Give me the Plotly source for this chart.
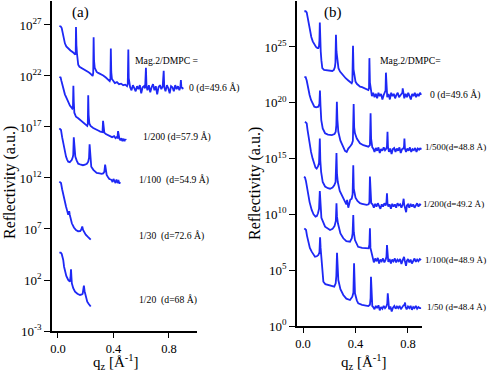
import plotly.graph_objects as go
import numpy as np

# ---- panel (a) curves: q_z [1/A] and log10(reflectivity) ----
a0_q = [0.010, 0.020, 0.027, 0.033, 0.038, 0.044, 0.050, 0.060, 0.074, 0.090, 0.110, 0.120, 0.125, 0.128, 0.130,
        0.133, 0.137, 0.141, 0.146, 0.155, 0.170, 0.182, 0.200, 0.218, 0.232, 0.243, 0.250, 0.254, 0.257, 0.260,
        0.265, 0.272, 0.279, 0.290, 0.305, 0.326, 0.345, 0.363, 0.373, 0.378, 0.381, 0.384, 0.389, 0.397, 0.410,
        0.425, 0.440, 0.455, 0.470, 0.485, 0.498, 0.503, 0.507, 0.510, 0.515,
        0.520, 0.530, 0.540, 0.550, 0.560, 0.570, 0.580, 0.590, 0.600, 0.610, 0.620, 0.628, 0.634, 0.638, 0.645,
        0.655, 0.665, 0.675, 0.685, 0.695, 0.705, 0.715, 0.725, 0.735, 0.745, 0.755, 0.762, 0.766, 0.775, 0.785,
        0.795, 0.805, 0.815, 0.825, 0.835, 0.845, 0.855, 0.865, 0.875, 0.882, 0.886, 0.890, 0.896, 0.900]
a0_logR = [26.9, 26.85, 26.7, 26.3, 25.9, 25.5, 25.2, 24.9, 24.7, 24.5, 24.3, 24.2, 24.1, 24.4, 26.8,
           25.0, 24.2, 23.6, 23.1, 22.9, 22.8, 22.7, 22.55, 22.4, 22.25, 22.1, 22.0, 22.3, 25.8, 23.5,
           22.8, 22.5, 22.4, 22.3, 22.2, 22.05, 21.85, 21.65, 21.5, 21.7, 24.7, 22.4, 21.7, 21.5, 21.3,
           21.4, 21.2, 21.25, 21.1, 21.15, 21.0, 21.2, 24.6, 21.8, 21.1,
           20.9, 20.6, 21.1, 20.8, 20.5, 21.0, 20.7, 21.1, 20.3, 20.9, 21.0, 20.8, 22.8, 21.0, 20.6,
           21.1, 20.4, 20.9, 21.2, 20.6, 21.0, 20.2, 20.9, 21.1, 20.7, 21.0, 22.5, 20.9, 20.5, 21.1,
           20.8, 20.3, 21.0, 20.9, 20.5, 21.1, 20.7, 21.0, 20.6, 20.9, 21.6, 20.8, 20.9, 20.7]

a200_q = [0.010, 0.019, 0.025, 0.030, 0.038, 0.050, 0.063, 0.075, 0.086, 0.095, 0.103, 0.108, 0.111, 0.114, 0.118,
          0.122, 0.130, 0.146, 0.160, 0.175, 0.195, 0.205, 0.211, 0.215, 0.218, 0.221, 0.226, 0.235, 0.254, 0.270,
          0.290, 0.305, 0.315, 0.321, 0.325, 0.329, 0.334, 0.345, 0.360, 0.375, 0.390, 0.405, 0.415, 0.423, 0.429,
          0.433, 0.437, 0.442, 0.450, 0.458, 0.465, 0.472, 0.480, 0.486, 0.490]
a200_logR = [21.9, 21.85, 21.5, 21.2, 20.8, 20.2, 19.8, 19.4, 19.1, 18.95, 18.8, 18.9, 21.05, 19.5, 18.4,
             18.2, 18.0, 17.85, 17.7, 17.55, 17.35, 17.2, 17.1, 17.3, 20.1, 18.2, 17.35, 17.1, 16.9, 16.75,
             16.65, 16.55, 16.5, 16.5, 17.6, 16.6, 16.45, 16.3, 16.2, 16.1, 16.0, 16.1, 15.9, 16.0, 15.95,
             16.6, 16.0, 15.9, 15.7, 15.9, 15.6, 15.85, 15.6, 15.8, 15.7]

a100_q = [0.010, 0.022, 0.030, 0.038, 0.048, 0.058, 0.066, 0.074, 0.085, 0.099, 0.106, 0.110, 0.114, 0.118, 0.125,
          0.135, 0.146, 0.165, 0.180, 0.195, 0.208, 0.218, 0.224, 0.228, 0.232, 0.240, 0.255, 0.279, 0.300, 0.315,
          0.326, 0.334, 0.340, 0.344, 0.351, 0.360, 0.370, 0.380, 0.387, 0.393, 0.400, 0.408, 0.415, 0.422, 0.430,
          0.437, 0.443, 0.447]
a100_logR = [16.87, 16.7, 16.0, 15.4, 14.7, 14.1, 13.8, 13.6, 13.55, 13.76, 14.0, 14.25, 15.98, 14.9, 14.1,
             13.7, 13.4, 13.3, 13.25, 13.3, 13.4, 13.6, 14.0, 15.3, 14.2, 13.1, 12.8, 12.5, 12.45, 12.4,
             12.45, 12.6, 13.3, 12.8, 12.3, 12.1, 11.9, 11.85, 11.8, 11.6, 11.9, 11.7, 11.5, 11.85, 11.6,
             11.7, 11.45, 11.6]

a30_q = [0.010, 0.022, 0.030, 0.038, 0.048, 0.058, 0.066, 0.074, 0.078, 0.081, 0.085, 0.089, 0.100, 0.115, 0.130,
         0.145, 0.160, 0.168, 0.175, 0.181, 0.190, 0.200, 0.214, 0.225, 0.236]
a30_logR = [11.64, 11.5, 10.9, 10.33, 9.7, 9.2, 8.8, 8.4, 8.6, 8.75, 8.4, 8.05, 7.56, 7.15, 6.9,
            6.78, 6.8, 6.95, 7.25, 6.9, 6.6, 6.45, 6.25, 6.1, 5.95]

a20_q = [0.010, 0.020, 0.027, 0.033, 0.038, 0.044, 0.050, 0.060, 0.074, 0.086, 0.090, 0.094, 0.097, 0.100, 0.110,
         0.123, 0.140, 0.159, 0.172, 0.178, 0.184, 0.187, 0.192, 0.200, 0.211, 0.222, 0.236]
a20_logR = [4.68, 4.68, 4.55, 4.3, 3.96, 3.3, 2.8, 2.4, 2.0, 1.83, 2.2, 3.05, 2.3, 1.67, 1.2,
            0.85, 0.65, 0.53, 0.58, 0.65, 1.2, 1.45, 0.9, 0.5, -0.13, -0.35, -0.6]

# ---- panel (b) curves ----
b0_q = [0.010, 0.020, 0.028, 0.034, 0.040, 0.047, 0.053, 0.063, 0.074, 0.086, 0.099, 0.110, 0.117, 0.122, 0.125,
        0.128, 0.131, 0.135, 0.140, 0.147, 0.160, 0.180, 0.200, 0.223, 0.235, 0.243, 0.247, 0.251, 0.255, 0.261,
        0.270, 0.282, 0.295, 0.310, 0.325, 0.345, 0.360, 0.371, 0.376, 0.381, 0.385, 0.391, 0.400, 0.410, 0.421,
        0.435, 0.450, 0.460, 0.472, 0.485, 0.498, 0.503, 0.506, 0.510, 0.518,
        0.525, 0.535, 0.545, 0.555, 0.565, 0.575, 0.585, 0.595, 0.605, 0.615, 0.624, 0.629, 0.632, 0.636, 0.642,
        0.652, 0.662, 0.672, 0.682, 0.692, 0.702, 0.712, 0.722, 0.732, 0.742, 0.752, 0.757, 0.760, 0.764, 0.772,
        0.782, 0.792, 0.802, 0.812, 0.822, 0.832, 0.842, 0.852, 0.862, 0.872, 0.882, 0.892, 0.900]
b0_logR = [28.2, 28.2, 28.1, 27.7, 27.3, 26.8, 26.4, 25.9, 25.5, 25.2, 25.0, 24.9, 24.9, 25.1, 25.6,
           27.2, 25.5, 24.6, 23.8, 23.1, 22.95, 22.9, 22.85, 22.85, 22.95, 23.2, 23.6, 26.1, 24.6, 23.7,
           23.1, 22.8, 22.6, 22.35, 22.2, 22.0, 21.85, 21.75, 21.9, 25.1, 23.0, 22.3, 21.9, 21.7, 21.6,
           21.45, 21.4, 21.35, 21.3, 21.2, 21.15, 21.3, 24.0, 21.8, 20.85,
           20.6, 20.9, 20.5, 20.8, 20.4, 20.9, 20.6, 20.8, 20.3, 20.7, 20.9, 21.1, 22.7, 21.0, 20.5,
           20.8, 20.3, 20.9, 20.6, 20.8, 20.4, 20.7, 20.9, 20.5, 20.7, 20.9, 20.9, 21.3, 20.8, 20.4,
           20.8, 20.5, 20.9, 20.6, 20.3, 20.8, 20.6, 20.9, 20.5, 20.8, 20.6, 20.9, 20.7]

b500_q = [0.010, 0.020, 0.028, 0.034, 0.040, 0.050, 0.061, 0.073, 0.086, 0.100, 0.117, 0.125, 0.129, 0.133, 0.139,
          0.150, 0.168, 0.190, 0.219, 0.240, 0.249, 0.254, 0.258, 0.262, 0.269, 0.285, 0.307, 0.320, 0.333, 0.345,
          0.360, 0.372, 0.380, 0.386, 0.390, 0.396, 0.410, 0.434, 0.460, 0.480, 0.498, 0.510, 0.515, 0.519, 0.528,
          0.535, 0.545, 0.555, 0.565, 0.575, 0.585, 0.595, 0.605, 0.615, 0.625, 0.635, 0.640, 0.644, 0.648, 0.655,
          0.665, 0.675, 0.685, 0.695, 0.705, 0.715, 0.725, 0.735, 0.745, 0.755, 0.765, 0.770, 0.773, 0.777, 0.785,
          0.795, 0.805, 0.815, 0.825, 0.835, 0.845, 0.855, 0.865, 0.875, 0.885, 0.895, 0.900]
b500_logR = [22.3, 22.3, 22.0, 21.6, 21.15, 20.7, 20.25, 19.9, 19.65, 19.6, 19.65, 19.9, 21.1, 19.8, 18.45,
             17.7, 17.27, 17.15, 17.1, 17.2, 17.4, 18.0, 20.1, 18.5, 17.4, 16.6, 16.07, 15.7, 15.6, 15.9,
             16.1, 16.3, 16.6, 19.9, 17.8, 17.27, 16.8, 16.37, 16.2, 16.1, 16.07, 16.2, 19.06, 16.8, 16.0,
             15.9, 15.6, 15.95, 15.7, 16.0, 15.5, 15.85, 15.7, 16.0, 15.75, 15.9, 16.1, 17.4, 16.0, 15.6,
             15.9, 15.4, 15.85, 15.95, 15.6, 15.9, 15.7, 16.0, 15.5, 15.85, 15.9, 16.1, 16.8, 15.9, 15.6,
             15.9, 15.7, 16.0, 15.6, 15.85, 15.75, 15.95, 15.6, 15.9, 15.8, 15.95, 15.8]

b200_q = [0.015, 0.022, 0.028, 0.034, 0.040, 0.050, 0.061, 0.073, 0.086, 0.095, 0.104, 0.114, 0.122, 0.128, 0.132,
          0.138, 0.150, 0.168, 0.190, 0.206, 0.225, 0.238, 0.248, 0.255, 0.259, 0.265, 0.280, 0.295, 0.310, 0.320,
          0.330, 0.336, 0.345, 0.360, 0.371, 0.378, 0.383, 0.387, 0.393, 0.400, 0.415, 0.434, 0.450, 0.470, 0.485,
          0.500, 0.506, 0.510, 0.514, 0.520,
          0.530, 0.540, 0.550, 0.560, 0.570, 0.580, 0.590, 0.600, 0.610, 0.620, 0.630, 0.636, 0.640, 0.644, 0.650,
          0.660, 0.670, 0.680, 0.690, 0.700, 0.710, 0.720, 0.730, 0.740, 0.750, 0.760, 0.764, 0.767, 0.771, 0.780,
          0.786, 0.792, 0.800, 0.810, 0.820, 0.830, 0.840, 0.850, 0.860, 0.870, 0.880, 0.890, 0.900]
b200_logR = [18.3, 18.25, 18.16, 17.6, 17.1, 16.3, 15.6, 15.0, 14.4, 14.2, 14.1, 14.3, 14.6, 16.8, 14.8,
             13.8, 12.9, 12.5, 12.35, 12.3, 12.4, 12.6, 12.9, 15.5, 13.6, 12.9, 12.1, 11.7, 11.4, 11.2,
             10.9, 11.3, 10.6, 11.3, 11.4, 11.8, 14.4, 12.3, 11.7, 11.5, 11.2, 11.0, 10.95, 10.9, 10.85,
             10.9, 11.1, 13.4, 11.5, 11.0,
             10.9, 10.6, 10.95, 10.7, 11.0, 10.8, 10.5, 10.9, 10.7, 11.0, 10.8, 11.1, 11.9, 11.0, 10.7,
             10.9, 10.5, 10.95, 10.7, 10.9, 10.6, 11.0, 10.8, 10.9, 10.6, 10.9, 11.1, 11.4, 10.9, 10.5,
             10.2, 10.8, 10.9, 10.6, 10.95, 10.7, 10.9, 10.6, 10.85, 11.0, 10.7, 10.9, 10.85]

b100_q = [0.008, 0.015, 0.022, 0.030, 0.040, 0.050, 0.066, 0.080, 0.095, 0.105, 0.114, 0.122, 0.128, 0.132, 0.140,
          0.168, 0.190, 0.206, 0.225, 0.240, 0.250, 0.255, 0.259, 0.266, 0.285, 0.307, 0.330, 0.358, 0.372, 0.378,
          0.383, 0.387, 0.396, 0.420, 0.450, 0.480, 0.500, 0.506, 0.510, 0.514, 0.522,
          0.530, 0.540, 0.550, 0.560, 0.570, 0.580, 0.590, 0.600, 0.610, 0.620, 0.630, 0.636, 0.640, 0.644, 0.650,
          0.660, 0.670, 0.680, 0.690, 0.700, 0.710, 0.720, 0.730, 0.740, 0.750, 0.760, 0.765, 0.770, 0.775, 0.785,
          0.792, 0.800, 0.810, 0.820, 0.830, 0.840, 0.850, 0.860, 0.870, 0.880, 0.890, 0.900]
b100_logR = [13.38, 13.3, 13.0, 12.4, 11.9, 11.1, 10.4, 10.0, 9.8, 9.85, 10.1, 10.5, 12.1, 10.8, 9.7,
             8.9, 8.7, 8.6, 8.7, 8.95, 9.4, 11.0, 9.8, 9.2, 8.3, 7.86, 7.6, 7.55, 7.86, 8.3,
             9.95, 8.4, 7.7, 7.1, 7.0, 6.95, 6.96, 7.3, 8.75, 7.0, 6.5,
             6.0, 5.7, 6.05, 5.8, 6.1, 5.6, 5.95, 5.8, 6.05, 5.7, 5.95, 6.2, 7.26, 6.1, 5.75,
             6.0, 5.6, 5.95, 5.8, 6.05, 5.7, 5.95, 5.8, 6.0, 5.55, 5.9, 6.0, 6.2, 5.9, 5.4,
             5.85, 6.0, 5.7, 5.95, 5.6, 5.9, 6.05, 5.75, 5.95, 5.8, 6.0, 5.9]

b50_q = [0.010, 0.017, 0.023, 0.030, 0.040, 0.052, 0.066, 0.080, 0.091, 0.105, 0.117, 0.125, 0.130, 0.134, 0.139,
         0.145, 0.155, 0.170, 0.193, 0.215, 0.238, 0.249, 0.254, 0.259, 0.263, 0.269, 0.285, 0.307, 0.330, 0.358,
         0.376, 0.384, 0.389, 0.392, 0.396, 0.410, 0.421, 0.450, 0.475, 0.498, 0.510, 0.515, 0.518, 0.522, 0.528,
         0.535, 0.545, 0.555, 0.565, 0.575, 0.585, 0.595, 0.605, 0.615, 0.625, 0.635, 0.642, 0.646, 0.650, 0.656,
         0.666, 0.676, 0.686, 0.696, 0.706, 0.716, 0.726, 0.736, 0.746, 0.756, 0.766, 0.774, 0.778, 0.782, 0.790,
         0.800, 0.810, 0.820, 0.830, 0.840, 0.850, 0.860, 0.870, 0.880, 0.890, 0.900]
b50_logR = [8.75, 8.7, 8.6, 8.1, 7.55, 7.0, 6.66, 6.35, 6.2, 6.25, 6.36, 6.6, 7.95, 7.0, 6.2,
            5.0, 3.97, 3.75, 3.67, 3.6, 3.52, 3.83, 4.5, 6.57, 5.0, 4.12, 3.3, 2.78, 2.45, 2.33,
            2.63, 3.0, 5.62, 3.5, 2.93, 2.3, 2.03, 1.9, 1.85, 1.79, 1.9, 2.5, 4.42, 2.5, 1.79,
            1.7, 1.5, 1.8, 1.6, 1.85, 1.4, 1.7, 1.55, 1.8, 1.6, 1.75, 2.0, 2.93, 1.9, 1.5,
            1.75, 1.3, 1.65, 1.8, 1.55, 1.75, 1.6, 1.8, 1.5, 1.7, 1.85, 1.9, 2.1, 1.7, 1.5,
            1.75, 1.6, 1.8, 1.45, 1.7, 1.6, 1.8, 1.55, 1.7, 1.6, 1.6]

a_curves = [(a0_q, a0_logR), (a200_q, a200_logR), (a100_q, a100_logR), (a30_q, a30_logR), (a20_q, a20_logR)]
b_curves = [(b0_q, b0_logR), (b500_q, b500_logR), (b200_q, b200_logR), (b100_q, b100_logR), (b50_q, b50_logR)]

a_labels = ["Mag.2/DMPC =", "0 (d=49.6 Å)", "1/200 (d=57.9 Å)", "1/100\u00a0\u00a0(d=54.9 Å)",
            "1/30\u00a0\u00a0(d=72.6 Å)", "1/20\u00a0\u00a0(d=68 Å)"]
b_labels = ["Mag.2/DMPC=", "0 (d=49.6 Å)", "1/500(d=48.8 Å)", "1/200(d=49.2 Å)", "1/100(d=48.9 Å)",
            "1/50 (d=48.4 Å)"]
a_yticks = [-3, 2, 7, 12, 17, 22, 27]
b_yticks = [0, 5, 10, 15, 20, 25]

BLUE = "rgb(30,40,245)"
FONT = "Liberation Serif, Times New Roman, serif"
W, H = 490, 372


def px(x, y):
    return x / W, 1 - y / H


fig = go.Figure()
for q, lr in a_curves:
    assert len(q) == len(lr)
    fig.add_trace(go.Scatter(x=q, y=10 ** np.array(lr), mode="lines", line=dict(color=BLUE, width=1.8),
                             xaxis="x", yaxis="y", hoverinfo="skip"))
for q, lr in b_curves:
    assert len(q) == len(lr)
    fig.add_trace(go.Scatter(x=q, y=10 ** np.array(lr), mode="lines", line=dict(color=BLUE, width=1.8),
                             xaxis="x2", yaxis="y2", hoverinfo="skip"))


def yaxis(dom, rng, ticks, anchor):
    return dict(type="log", domain=dom, range=rng, anchor=anchor, automargin=False,
                showline=True, linecolor="black", linewidth=1.5,
                showgrid=False, zeroline=False, ticks="outside", ticklen=6, tickwidth=1.2, tickcolor="black",
                tickmode="array", tickvals=[10.0 ** t for t in ticks],
                ticktext=["10<sup>%d</sup>" % t for t in ticks],
                tickfont=dict(family=FONT, size=13, color="black"))


def yminor(over, rng, anchor):
    vals = [10 ** (k / 3) for k in range(int(rng[0] * 3) - 1, int(rng[1] * 3) + 2)]
    return dict(type="log", overlaying=over, anchor=anchor, side="left", range=rng, automargin=False,
                showline=False, showgrid=False, zeroline=False, ticks="outside", ticklen=3, tickwidth=1,
                tickcolor="black", tickmode="array", tickvals=vals, showticklabels=False)


def xaxis(dom, rng, anchor):
    return dict(domain=dom, range=rng, anchor=anchor, automargin=False,
                showline=True, linecolor="black", linewidth=1.5,
                showgrid=False, zeroline=False, ticks="outside", ticklen=5, tickwidth=1.2, tickcolor="black",
                tickmode="array", tickvals=[0, 0.4, 0.8], ticktext=["0.0", "0.4", "0.8"],
                tickfont=dict(family=FONT, size=12.5, color="black"))


def xminor(over, rng, anchor):
    return dict(overlaying=over, anchor=anchor, side="bottom", range=rng, automargin=False,
                showline=False, showgrid=False, zeroline=False, ticks="outside", ticklen=3, tickwidth=1,
                tickcolor="black", tickmode="array", tickvals=[0.2, 0.6, 1.0], showticklabels=False)


ann = []
for (x, y), t in zip([(133, 61), (187, 88), (141, 137), (137, 180), (137, 236), (137, 300)], a_labels):
    ax, ay = px(x, y)
    ann.append(dict(x=ax, y=ay, text=t, xanchor="left", yanchor="middle"))
# panel (b) labels: first two left-anchored, the rest right-anchored near the edge
for (x, y), t, anc in zip([(378, 61), (428, 95), (488, 147), (486, 204), (488, 260), (488, 307)], b_labels,
                          ["left", "left", "right", "right", "right", "right"]):
    ax, ay = px(x, y)
    f = dict(size=9.7) if anc == "left" else dict(size=9.1)
    ann.append(dict(x=ax, y=ay, text=t, xanchor=anc, yanchor="middle", font=f))
for (x, y), t in zip([(80, 13), (333, 13)], ["(a)", "(b)"]):
    ax, ay = px(x, y)
    ann.append(dict(x=ax, y=ay, text=t, xanchor="center", yanchor="middle", font=dict(size=15)))
for (x, y) in [(10, 183), (255, 184)]:
    ax, ay = px(x, y)
    ann.append(dict(x=ax, y=ay, text="Reflectivity (a.u.)", textangle=-90, xanchor="center",
                    yanchor="middle", font=dict(size=16)))
for (x, y) in [(116, 362), (364, 362)]:
    ax, ay = px(x, y)
    ann.append(dict(x=ax, y=ay, text="q<sub>z</sub> [Å<sup>-1</sup>]", xanchor="center",
                    yanchor="middle", font=dict(size=15)))
for a in ann:
    a.update(xref="paper", yref="paper", showarrow=False)
    a.setdefault("font", dict(size=9.7))
    a["font"].update(family=FONT, color="black")

ra = [-3, 29.35]
rb = [0, 29.12]
fig.update_layout(
    width=W, height=H, margin=dict(l=0, r=0, t=0, b=0, autoexpand=False),
    paper_bgcolor="white", plot_bgcolor="rgba(0,0,0,0)", showlegend=False,
    font=dict(family=FONT, color="black"),
    xaxis=xaxis([52 / W, 197 / W], [-0.043, 1.002], "y"),
    yaxis=yaxis([1 - 331 / H, 1 - 1 / H], ra, a_yticks, "x"),
    xaxis2=xaxis([297 / W, 422 / W], [-0.046, 0.907], "y2"),
    yaxis2=yaxis([1 - 326 / H, 1 - 1 / H], rb, b_yticks, "x2"),
    yaxis3=yminor("y", ra, "x"),
    yaxis4=yminor("y2", rb, "x2"),
    xaxis3=xminor("x", [-0.043, 1.002], "y"),
    xaxis4=xminor("x2", [-0.046, 0.907], "y2"),
    annotations=ann,
)

fig.write_html("out.html", config={"displayModeBar": False},
               post_script="document.body.style.margin='0';")
